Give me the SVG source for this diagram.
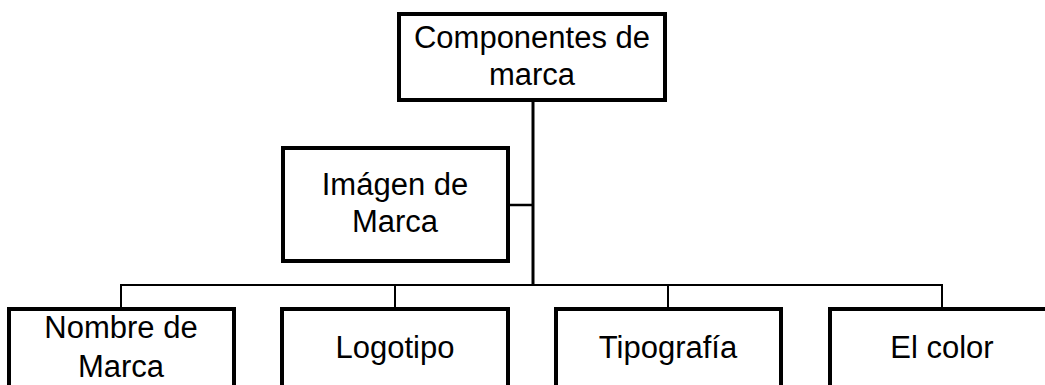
<svg xmlns="http://www.w3.org/2000/svg" width="1045" height="385" viewBox="0 0 1045 385">
<style>
.box{fill:#fff;stroke:#000;stroke-width:4}
.ln{stroke:#000;fill:none}
text{font-family:"Liberation Sans",Arial,sans-serif;font-size:31px;fill:#000;text-anchor:middle}
</style>
<rect width="1045" height="385" fill="#fff"/>
<g id="connectors">
<line class="ln" x1="533" y1="100" x2="533" y2="286" stroke-width="3"/>
<line class="ln" x1="508" y1="205" x2="533" y2="205" stroke-width="2.5"/>
<polyline class="ln" points="121,309 121,285 942,285 942,309" stroke-width="2"/>
<line class="ln" x1="395" y1="285" x2="395" y2="309" stroke-width="2"/>
<line class="ln" x1="668" y1="285" x2="668" y2="309" stroke-width="2"/>
</g>
<g id="n-componentes">
<rect class="box" x="399" y="14" width="266" height="86"/>
<text x="532" y="48">Componentes de</text>
<text x="532" y="85">marca</text>
</g>
<g id="n-imagen">
<rect class="box" x="283" y="148" width="225" height="113"/>
<text x="395" y="195">Imágen de</text>
<text x="395" y="232">Marca</text>
</g>
<g id="n-nombre">
<rect class="box" x="9" y="309" width="225" height="100"/>
<text x="121" y="338">Nombre de</text>
<text x="121" y="377">Marca</text>
</g>
<g id="n-logotipo">
<rect class="box" x="282" y="309" width="226" height="100"/>
<text x="395" y="358">Logotipo</text>
</g>
<g id="n-tipografia">
<rect class="box" x="556" y="309" width="225" height="100"/>
<text x="668" y="358">Tipografía</text>
</g>
<g id="n-color">
<rect class="box" x="830" y="309" width="225" height="100"/>
<text x="942" y="358">El color</text>
</g>
</svg>
